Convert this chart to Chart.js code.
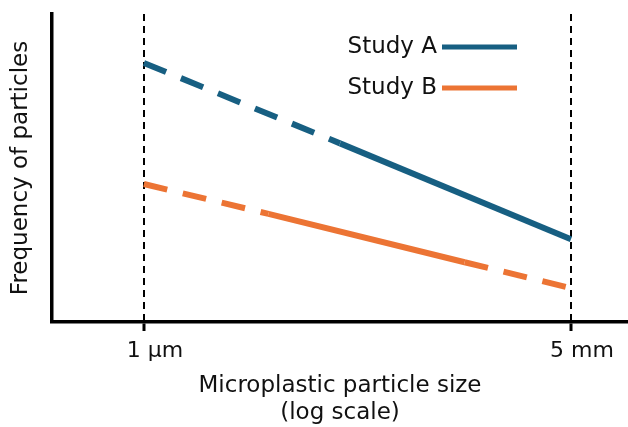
<!DOCTYPE html>
<html>
<head>
<meta charset="utf-8">
<script src="https://cdn.jsdelivr.net/npm/chart.js@4"></script>
<style>
    html, body { margin: 0; padding: 0; background: #fff; }
    #wrap { width: 628px; height: 427px; }
</style>
</head>
<body>
<div id="wrap"><canvas id="chart"></canvas></div>
<script>
// particle size in µm (log axis), frequency in arbitrary units
const sizeTicks = [1, 5000];
const sizeTickLabels = ['1 µm', '5 mm'];

const studyASizes = [1, 50, 5000];
const studyAFreq = [84.1, 58.0, 26.9];
const studyADashed = [0];          // segment indexes drawn dashed

const studyBSizes = [1, 12, 600, 5000];
const studyBFreq = [44.8, 35.1, 19.4, 11.0];
const studyBDashed = [0, 2];

const FONT = 'DejaVu Sans';
const LINE_DASH = [24, 16];

function toPoints(xs, ys) {
    return xs.map((x, i) => ({ x: x, y: ys[i] }));
}

function dashFor(list) {
    return ctx => list.includes(ctx.p0DataIndex) ? LINE_DASH : undefined;
}

// legend drawn as "label  ——" inside the top right of the plot
const sideLegend = {
    id: 'sideLegend',
    afterDraw(chart) {
        const ctx = chart.ctx;
        const textRight = 437, lineStart = 442, lineEnd = 517;
        const rows = [47, 88];
        ctx.save();
        ctx.font = '23px "' + FONT + '"';
        ctx.textAlign = 'right';
        ctx.textBaseline = 'middle';
        chart.data.datasets.forEach((ds, i) => {
            const y = rows[i];
            ctx.fillStyle = '#111';
            ctx.fillText(ds.label, textRight, y);
            ctx.strokeStyle = ds.borderColor;
            ctx.lineWidth = 5;
            ctx.setLineDash([]);
            ctx.beginPath();
            ctx.moveTo(lineStart, y);
            ctx.lineTo(lineEnd, y);
            ctx.stroke();
        });
        ctx.restore();
    }
};

new Chart(document.getElementById('chart'), {
    type: 'line',
    data: {
        datasets: [{
            label: 'Study A',
            data: toPoints(studyASizes, studyAFreq),
            borderColor: '#175f82',
            borderWidth: 6,
            borderCapStyle: 'butt',
            pointRadius: 0,
            tension: 0,
            segment: { borderDash: dashFor(studyADashed) }
        }, {
            label: 'Study B',
            data: toPoints(studyBSizes, studyBFreq),
            borderColor: '#ec7434',
            borderWidth: 6,
            borderCapStyle: 'butt',
            pointRadius: 0,
            tension: 0,
            segment: { borderDash: dashFor(studyBDashed) }
        }]
    },
    options: {
        responsive: true,
        maintainAspectRatio: false,
        animation: false,
        layout: { padding: { top: 14, right: 0, bottom: 0, left: 0 } },
        plugins: {
            legend: { display: false },
            tooltip: { enabled: false }
        },
        scales: {
            x: {
                type: 'logarithmic',
                min: 0.16,
                max: 15600,
                afterBuildTicks: scale => {
                    scale.ticks = sizeTicks.map(v => ({ value: v }));
                },
                afterFit: scale => { scale.height = 105; },
                ticks: {
                    autoSkip: false,
                    maxRotation: 0,
                    labelOffset: 11,
                    padding: 7,
                    color: '#111',
                    font: { family: FONT, size: 22 },
                    callback: (v, i) => sizeTickLabels[i]
                },
                grid: {
                    color: '#000',
                    lineWidth: 2,
                    drawOnChartArea: true,
                    drawTicks: true,
                    tickLength: 9,
                    tickWidth: 3,
                    tickColor: '#000',
                    tickBorderDash: []
                },
                border: { display: true, color: '#000', width: 3.5, dash: [7, 5] },
                title: {
                    display: true,
                    text: ['Microplastic particle size', '(log scale)'],
                    color: '#111',
                    font: { family: FONT, size: 23, lineHeight: 1.15 },
                    padding: { top: 2, bottom: 1 }
                }
            },
            y: {
                min: 0,
                max: 100,
                afterFit: scale => { scale.width = 52; },
                ticks: { display: false },
                grid: { display: false, drawTicks: false },
                border: { display: true, color: '#000', width: 3.5 },
                title: {
                    display: true,
                    text: 'Frequency of particles',
                    color: '#111',
                    font: { family: FONT, size: 23 },
                    padding: { top: 7, bottom: 0 }
                }
            }
        }
    },
    plugins: [sideLegend]
});
</script>
</body>
</html>
